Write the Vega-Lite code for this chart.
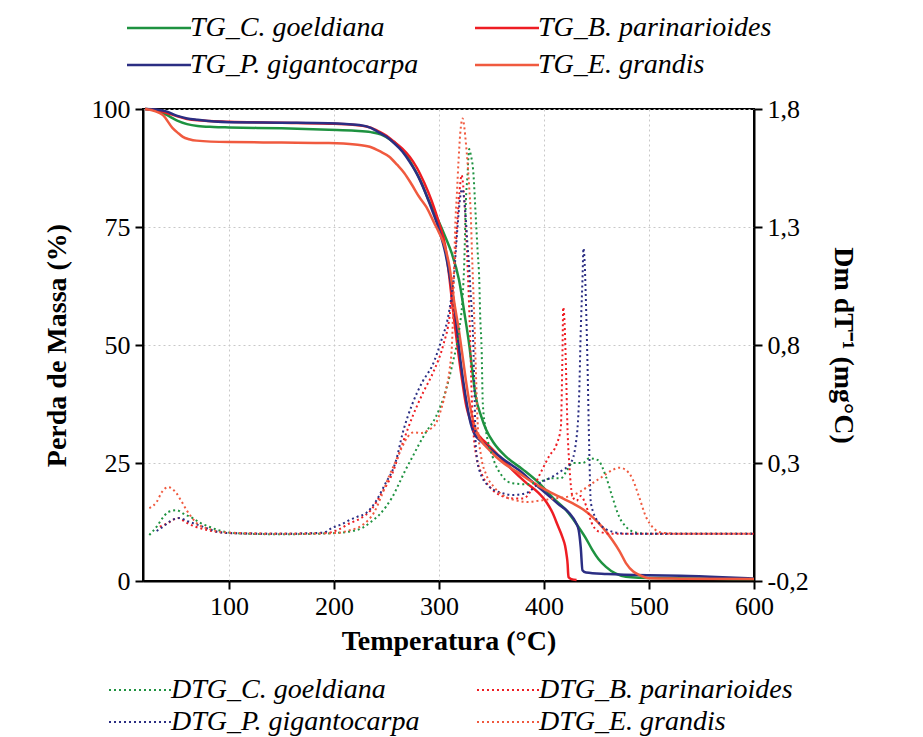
{
  "$schema": "https://vega.github.io/schema/vega-lite/v6.json",
  "width": 611,
  "height": 472,
  "autosize": {"type": "none"},
  "padding": {"left": 143, "top": 109, "right": 169, "bottom": 156},
  "background": "white",
  "config": {
    "font": "Liberation Serif",
    "view": {"stroke": "black", "strokeWidth": 2},
    "axis": {
      "labelFont": "Liberation Serif",
      "titleFont": "Liberation Serif",
      "labelColor": "black",
      "titleColor": "black",
      "labelFontSize": 26,
      "titleFontSize": 28,
      "titleFontWeight": "bold",
      "labelFlush": false,
      "domainColor": "black",
      "domainWidth": 2,
      "tickColor": "black",
      "tickWidth": 2,
      "tickSize": 8,
      "gridColor": "#c8c8c8",
      "gridDash": [2, 3],
      "gridWidth": 1
    },
    "legend": {
      "labelFont": "Liberation Serif",
      "labelColor": "black",
      "labelFontSize": 28,
      "labelFontStyle": "italic",
      "labelLimit": 500
    }
  },
  "datasets": {
    "tg": [
      {"T": 20, "m": 100, "s": "TG_C. goeldiana"},
      {"T": 30, "m": 99.7, "s": "TG_C. goeldiana"},
      {"T": 40, "m": 98.8, "s": "TG_C. goeldiana"},
      {"T": 50, "m": 97.6, "s": "TG_C. goeldiana"},
      {"T": 60, "m": 96.8, "s": "TG_C. goeldiana"},
      {"T": 70, "m": 96.4, "s": "TG_C. goeldiana"},
      {"T": 85, "m": 96.2, "s": "TG_C. goeldiana"},
      {"T": 100, "m": 96.1, "s": "TG_C. goeldiana"},
      {"T": 150, "m": 95.9, "s": "TG_C. goeldiana"},
      {"T": 195, "m": 95.6, "s": "TG_C. goeldiana"},
      {"T": 220, "m": 95.4, "s": "TG_C. goeldiana"},
      {"T": 235, "m": 95.1, "s": "TG_C. goeldiana"},
      {"T": 245, "m": 94.6, "s": "TG_C. goeldiana"},
      {"T": 255, "m": 93.3, "s": "TG_C. goeldiana"},
      {"T": 262, "m": 92.0, "s": "TG_C. goeldiana"},
      {"T": 270, "m": 89.8, "s": "TG_C. goeldiana"},
      {"T": 276, "m": 87.5, "s": "TG_C. goeldiana"},
      {"T": 283, "m": 84.5, "s": "TG_C. goeldiana"},
      {"T": 290, "m": 80.7, "s": "TG_C. goeldiana"},
      {"T": 298, "m": 77.0, "s": "TG_C. goeldiana"},
      {"T": 306, "m": 72.9, "s": "TG_C. goeldiana"},
      {"T": 312, "m": 69.5, "s": "TG_C. goeldiana"},
      {"T": 319, "m": 63.8, "s": "TG_C. goeldiana"},
      {"T": 324, "m": 57.0, "s": "TG_C. goeldiana"},
      {"T": 329, "m": 49.6, "s": "TG_C. goeldiana"},
      {"T": 332, "m": 44.0, "s": "TG_C. goeldiana"},
      {"T": 335, "m": 39.0, "s": "TG_C. goeldiana"},
      {"T": 340, "m": 35.0, "s": "TG_C. goeldiana"},
      {"T": 345, "m": 32.0, "s": "TG_C. goeldiana"},
      {"T": 352, "m": 29.3, "s": "TG_C. goeldiana"},
      {"T": 364, "m": 26.3, "s": "TG_C. goeldiana"},
      {"T": 380, "m": 23.6, "s": "TG_C. goeldiana"},
      {"T": 395, "m": 20.8, "s": "TG_C. goeldiana"},
      {"T": 410, "m": 17.3, "s": "TG_C. goeldiana"},
      {"T": 421, "m": 15.0, "s": "TG_C. goeldiana"},
      {"T": 433, "m": 11.4, "s": "TG_C. goeldiana"},
      {"T": 440, "m": 9.0, "s": "TG_C. goeldiana"},
      {"T": 446, "m": 6.6, "s": "TG_C. goeldiana"},
      {"T": 452, "m": 4.6, "s": "TG_C. goeldiana"},
      {"T": 459, "m": 3.0, "s": "TG_C. goeldiana"},
      {"T": 468, "m": 1.6, "s": "TG_C. goeldiana"},
      {"T": 478, "m": 0.9, "s": "TG_C. goeldiana"},
      {"T": 490, "m": 0.7, "s": "TG_C. goeldiana"},
      {"T": 520, "m": 0.6, "s": "TG_C. goeldiana"},
      {"T": 560, "m": 0.5, "s": "TG_C. goeldiana"},
      {"T": 600, "m": 0.4, "s": "TG_C. goeldiana"},

      {"T": 20, "m": 100, "s": "TG_B. parinarioides"},
      {"T": 30, "m": 99.8, "s": "TG_B. parinarioides"},
      {"T": 40, "m": 99.2, "s": "TG_B. parinarioides"},
      {"T": 50, "m": 98.5, "s": "TG_B. parinarioides"},
      {"T": 60, "m": 97.9, "s": "TG_B. parinarioides"},
      {"T": 70, "m": 97.6, "s": "TG_B. parinarioides"},
      {"T": 100, "m": 97.3, "s": "TG_B. parinarioides"},
      {"T": 150, "m": 97.1, "s": "TG_B. parinarioides"},
      {"T": 195, "m": 96.9, "s": "TG_B. parinarioides"},
      {"T": 215, "m": 96.7, "s": "TG_B. parinarioides"},
      {"T": 234, "m": 96.1, "s": "TG_B. parinarioides"},
      {"T": 243, "m": 95.2, "s": "TG_B. parinarioides"},
      {"T": 250, "m": 94.3, "s": "TG_B. parinarioides"},
      {"T": 257, "m": 93.1, "s": "TG_B. parinarioides"},
      {"T": 265, "m": 91.6, "s": "TG_B. parinarioides"},
      {"T": 272, "m": 89.9, "s": "TG_B. parinarioides"},
      {"T": 279, "m": 87.5, "s": "TG_B. parinarioides"},
      {"T": 286, "m": 84.3, "s": "TG_B. parinarioides"},
      {"T": 293, "m": 80.5, "s": "TG_B. parinarioides"},
      {"T": 300, "m": 75.8, "s": "TG_B. parinarioides"},
      {"T": 306, "m": 70.8, "s": "TG_B. parinarioides"},
      {"T": 310, "m": 64.0, "s": "TG_B. parinarioides"},
      {"T": 314, "m": 56.0, "s": "TG_B. parinarioides"},
      {"T": 318, "m": 49.0, "s": "TG_B. parinarioides"},
      {"T": 322, "m": 42.5, "s": "TG_B. parinarioides"},
      {"T": 326, "m": 37.0, "s": "TG_B. parinarioides"},
      {"T": 330, "m": 34.0, "s": "TG_B. parinarioides"},
      {"T": 334, "m": 32.0, "s": "TG_B. parinarioides"},
      {"T": 340, "m": 30.3, "s": "TG_B. parinarioides"},
      {"T": 345, "m": 29.2, "s": "TG_B. parinarioides"},
      {"T": 355, "m": 27.0, "s": "TG_B. parinarioides"},
      {"T": 370, "m": 23.5, "s": "TG_B. parinarioides"},
      {"T": 382, "m": 21.0, "s": "TG_B. parinarioides"},
      {"T": 395, "m": 18.6, "s": "TG_B. parinarioides"},
      {"T": 402, "m": 16.8, "s": "TG_B. parinarioides"},
      {"T": 408, "m": 14.5, "s": "TG_B. parinarioides"},
      {"T": 413, "m": 11.8, "s": "TG_B. parinarioides"},
      {"T": 417.5, "m": 9.3, "s": "TG_B. parinarioides"},
      {"T": 420, "m": 7.5, "s": "TG_B. parinarioides"},
      {"T": 421.5, "m": 5.5, "s": "TG_B. parinarioides"},
      {"T": 422.5, "m": 3.5, "s": "TG_B. parinarioides"},
      {"T": 423, "m": 1.5, "s": "TG_B. parinarioides"},
      {"T": 423.4, "m": 0.8, "s": "TG_B. parinarioides"},
      {"T": 426, "m": 0.4, "s": "TG_B. parinarioides"},
      {"T": 431, "m": 0.2, "s": "TG_B. parinarioides"},

      {"T": 20, "m": 100, "s": "TG_P. gigantocarpa"},
      {"T": 30, "m": 99.9, "s": "TG_P. gigantocarpa"},
      {"T": 40, "m": 99.5, "s": "TG_P. gigantocarpa"},
      {"T": 50, "m": 98.6, "s": "TG_P. gigantocarpa"},
      {"T": 60, "m": 98.0, "s": "TG_P. gigantocarpa"},
      {"T": 70, "m": 97.7, "s": "TG_P. gigantocarpa"},
      {"T": 100, "m": 97.2, "s": "TG_P. gigantocarpa"},
      {"T": 150, "m": 97.1, "s": "TG_P. gigantocarpa"},
      {"T": 195, "m": 97.0, "s": "TG_P. gigantocarpa"},
      {"T": 224, "m": 96.6, "s": "TG_P. gigantocarpa"},
      {"T": 235, "m": 96.0, "s": "TG_P. gigantocarpa"},
      {"T": 243, "m": 95.0, "s": "TG_P. gigantocarpa"},
      {"T": 250, "m": 94.1, "s": "TG_P. gigantocarpa"},
      {"T": 257, "m": 92.8, "s": "TG_P. gigantocarpa"},
      {"T": 265, "m": 91.0, "s": "TG_P. gigantocarpa"},
      {"T": 272, "m": 88.8, "s": "TG_P. gigantocarpa"},
      {"T": 279, "m": 86.2, "s": "TG_P. gigantocarpa"},
      {"T": 286, "m": 82.8, "s": "TG_P. gigantocarpa"},
      {"T": 293, "m": 78.8, "s": "TG_P. gigantocarpa"},
      {"T": 300, "m": 74.4, "s": "TG_P. gigantocarpa"},
      {"T": 306, "m": 69.5, "s": "TG_P. gigantocarpa"},
      {"T": 310, "m": 64.8, "s": "TG_P. gigantocarpa"},
      {"T": 315, "m": 57.5, "s": "TG_P. gigantocarpa"},
      {"T": 320.8, "m": 46.0, "s": "TG_P. gigantocarpa"},
      {"T": 325, "m": 39.5, "s": "TG_P. gigantocarpa"},
      {"T": 330, "m": 33.5, "s": "TG_P. gigantocarpa"},
      {"T": 334, "m": 31.0, "s": "TG_P. gigantocarpa"},
      {"T": 338, "m": 30.0, "s": "TG_P. gigantocarpa"},
      {"T": 346, "m": 28.5, "s": "TG_P. gigantocarpa"},
      {"T": 354, "m": 27.0, "s": "TG_P. gigantocarpa"},
      {"T": 365, "m": 25.2, "s": "TG_P. gigantocarpa"},
      {"T": 376, "m": 23.5, "s": "TG_P. gigantocarpa"},
      {"T": 389, "m": 21.0, "s": "TG_P. gigantocarpa"},
      {"T": 401.7, "m": 18.6, "s": "TG_P. gigantocarpa"},
      {"T": 413, "m": 16.4, "s": "TG_P. gigantocarpa"},
      {"T": 424, "m": 14.4, "s": "TG_P. gigantocarpa"},
      {"T": 430, "m": 12.5, "s": "TG_P. gigantocarpa"},
      {"T": 433, "m": 10.8, "s": "TG_P. gigantocarpa"},
      {"T": 435, "m": 7.0, "s": "TG_P. gigantocarpa"},
      {"T": 436.6, "m": 2.3, "s": "TG_P. gigantocarpa"},
      {"T": 440, "m": 1.8, "s": "TG_P. gigantocarpa"},
      {"T": 460, "m": 1.5, "s": "TG_P. gigantocarpa"},
      {"T": 500, "m": 1.2, "s": "TG_P. gigantocarpa"},
      {"T": 530, "m": 1.1, "s": "TG_P. gigantocarpa"},
      {"T": 570, "m": 0.8, "s": "TG_P. gigantocarpa"},
      {"T": 600, "m": 0.5, "s": "TG_P. gigantocarpa"},

      {"T": 20, "m": 100, "s": "TG_E. grandis"},
      {"T": 30, "m": 99.5, "s": "TG_E. grandis"},
      {"T": 37, "m": 98.7, "s": "TG_E. grandis"},
      {"T": 46, "m": 96.0, "s": "TG_E. grandis"},
      {"T": 52, "m": 94.8, "s": "TG_E. grandis"},
      {"T": 56, "m": 94.1, "s": "TG_E. grandis"},
      {"T": 62, "m": 93.6, "s": "TG_E. grandis"},
      {"T": 69, "m": 93.3, "s": "TG_E. grandis"},
      {"T": 100, "m": 93.0, "s": "TG_E. grandis"},
      {"T": 150, "m": 92.9, "s": "TG_E. grandis"},
      {"T": 195, "m": 92.8, "s": "TG_E. grandis"},
      {"T": 220, "m": 92.5, "s": "TG_E. grandis"},
      {"T": 234, "m": 92.0, "s": "TG_E. grandis"},
      {"T": 244, "m": 91.0, "s": "TG_E. grandis"},
      {"T": 252.6, "m": 89.9, "s": "TG_E. grandis"},
      {"T": 260, "m": 88.2, "s": "TG_E. grandis"},
      {"T": 267, "m": 86.4, "s": "TG_E. grandis"},
      {"T": 274, "m": 84.0, "s": "TG_E. grandis"},
      {"T": 281, "m": 81.4, "s": "TG_E. grandis"},
      {"T": 288, "m": 79.2, "s": "TG_E. grandis"},
      {"T": 295.5, "m": 75.8, "s": "TG_E. grandis"},
      {"T": 300, "m": 73.8, "s": "TG_E. grandis"},
      {"T": 306, "m": 70.5, "s": "TG_E. grandis"},
      {"T": 310, "m": 66.5, "s": "TG_E. grandis"},
      {"T": 314.5, "m": 59.0, "s": "TG_E. grandis"},
      {"T": 319, "m": 53.0, "s": "TG_E. grandis"},
      {"T": 322.5, "m": 47.5, "s": "TG_E. grandis"},
      {"T": 325.5, "m": 42.6, "s": "TG_E. grandis"},
      {"T": 330, "m": 36.5, "s": "TG_E. grandis"},
      {"T": 335, "m": 32.0, "s": "TG_E. grandis"},
      {"T": 340, "m": 29.8, "s": "TG_E. grandis"},
      {"T": 347.8, "m": 27.8, "s": "TG_E. grandis"},
      {"T": 360, "m": 25.2, "s": "TG_E. grandis"},
      {"T": 376, "m": 22.9, "s": "TG_E. grandis"},
      {"T": 390, "m": 20.8, "s": "TG_E. grandis"},
      {"T": 401.7, "m": 19.3, "s": "TG_E. grandis"},
      {"T": 415, "m": 17.8, "s": "TG_E. grandis"},
      {"T": 427, "m": 16.5, "s": "TG_E. grandis"},
      {"T": 437, "m": 15.2, "s": "TG_E. grandis"},
      {"T": 446, "m": 13.6, "s": "TG_E. grandis"},
      {"T": 456, "m": 11.3, "s": "TG_E. grandis"},
      {"T": 465, "m": 8.7, "s": "TG_E. grandis"},
      {"T": 472, "m": 6.3, "s": "TG_E. grandis"},
      {"T": 478, "m": 3.8, "s": "TG_E. grandis"},
      {"T": 485, "m": 2.0, "s": "TG_E. grandis"},
      {"T": 490.5, "m": 1.3, "s": "TG_E. grandis"},
      {"T": 500, "m": 0.6, "s": "TG_E. grandis"},
      {"T": 530, "m": 0.5, "s": "TG_E. grandis"},
      {"T": 600, "m": 0.4, "s": "TG_E. grandis"}
    ],
    "dtg": [
      {"T": 24, "d": -0.005, "s": "DTG_C. goeldiana"},
      {"T": 31, "d": 0.03, "s": "DTG_C. goeldiana"},
      {"T": 36, "d": 0.063, "s": "DTG_C. goeldiana"},
      {"T": 42, "d": 0.092, "s": "DTG_C. goeldiana"},
      {"T": 50, "d": 0.1, "s": "DTG_C. goeldiana"},
      {"T": 57, "d": 0.084, "s": "DTG_C. goeldiana"},
      {"T": 65, "d": 0.067, "s": "DTG_C. goeldiana"},
      {"T": 73, "d": 0.045, "s": "DTG_C. goeldiana"},
      {"T": 81, "d": 0.03, "s": "DTG_C. goeldiana"},
      {"T": 90, "d": 0.015, "s": "DTG_C. goeldiana"},
      {"T": 100, "d": 0.005, "s": "DTG_C. goeldiana"},
      {"T": 120, "d": 0.0, "s": "DTG_C. goeldiana"},
      {"T": 150, "d": -0.002, "s": "DTG_C. goeldiana"},
      {"T": 180, "d": 0.0, "s": "DTG_C. goeldiana"},
      {"T": 200, "d": 0.003, "s": "DTG_C. goeldiana"},
      {"T": 215, "d": 0.01, "s": "DTG_C. goeldiana"},
      {"T": 227, "d": 0.025, "s": "DTG_C. goeldiana"},
      {"T": 235, "d": 0.05, "s": "DTG_C. goeldiana"},
      {"T": 243, "d": 0.08, "s": "DTG_C. goeldiana"},
      {"T": 249.5, "d": 0.115, "s": "DTG_C. goeldiana"},
      {"T": 255.5, "d": 0.156, "s": "DTG_C. goeldiana"},
      {"T": 262, "d": 0.214, "s": "DTG_C. goeldiana"},
      {"T": 268, "d": 0.27, "s": "DTG_C. goeldiana"},
      {"T": 274.8, "d": 0.327, "s": "DTG_C. goeldiana"},
      {"T": 281, "d": 0.38, "s": "DTG_C. goeldiana"},
      {"T": 287.5, "d": 0.43, "s": "DTG_C. goeldiana"},
      {"T": 297, "d": 0.496, "s": "DTG_C. goeldiana"},
      {"T": 306.6, "d": 0.61, "s": "DTG_C. goeldiana"},
      {"T": 312.9, "d": 0.722, "s": "DTG_C. goeldiana"},
      {"T": 319, "d": 0.86, "s": "DTG_C. goeldiana"},
      {"T": 322.4, "d": 1.0, "s": "DTG_C. goeldiana"},
      {"T": 324, "d": 1.146, "s": "DTG_C. goeldiana"},
      {"T": 325.6, "d": 1.414, "s": "DTG_C. goeldiana"},
      {"T": 327, "d": 1.513, "s": "DTG_C. goeldiana"},
      {"T": 328.7, "d": 1.63, "s": "DTG_C. goeldiana"},
      {"T": 330.5, "d": 1.6, "s": "DTG_C. goeldiana"},
      {"T": 332.5, "d": 1.54, "s": "DTG_C. goeldiana"},
      {"T": 335, "d": 1.34, "s": "DTG_C. goeldiana"},
      {"T": 336.7, "d": 1.2, "s": "DTG_C. goeldiana"},
      {"T": 338.3, "d": 1.075, "s": "DTG_C. goeldiana"},
      {"T": 339.2, "d": 0.92, "s": "DTG_C. goeldiana"},
      {"T": 340.5, "d": 0.79, "s": "DTG_C. goeldiana"},
      {"T": 341.7, "d": 0.55, "s": "DTG_C. goeldiana"},
      {"T": 344.6, "d": 0.44, "s": "DTG_C. goeldiana"},
      {"T": 351, "d": 0.327, "s": "DTG_C. goeldiana"},
      {"T": 360.5, "d": 0.242, "s": "DTG_C. goeldiana"},
      {"T": 370, "d": 0.214, "s": "DTG_C. goeldiana"},
      {"T": 382.7, "d": 0.21, "s": "DTG_C. goeldiana"},
      {"T": 395, "d": 0.22, "s": "DTG_C. goeldiana"},
      {"T": 408, "d": 0.235, "s": "DTG_C. goeldiana"},
      {"T": 416, "d": 0.235, "s": "DTG_C. goeldiana"},
      {"T": 422, "d": 0.27, "s": "DTG_C. goeldiana"},
      {"T": 427, "d": 0.3, "s": "DTG_C. goeldiana"},
      {"T": 437, "d": 0.3, "s": "DTG_C. goeldiana"},
      {"T": 443, "d": 0.32, "s": "DTG_C. goeldiana"},
      {"T": 451, "d": 0.313, "s": "DTG_C. goeldiana"},
      {"T": 459, "d": 0.242, "s": "DTG_C. goeldiana"},
      {"T": 465, "d": 0.157, "s": "DTG_C. goeldiana"},
      {"T": 471.5, "d": 0.073, "s": "DTG_C. goeldiana"},
      {"T": 478, "d": 0.03, "s": "DTG_C. goeldiana"},
      {"T": 488, "d": 0.005, "s": "DTG_C. goeldiana"},
      {"T": 500, "d": 0.0, "s": "DTG_C. goeldiana"},
      {"T": 550, "d": 0.0, "s": "DTG_C. goeldiana"},
      {"T": 600, "d": 0.0, "s": "DTG_C. goeldiana"},

      {"T": 34, "d": 0.03, "s": "DTG_B. parinarioides"},
      {"T": 42, "d": 0.046, "s": "DTG_B. parinarioides"},
      {"T": 51, "d": 0.067, "s": "DTG_B. parinarioides"},
      {"T": 60, "d": 0.046, "s": "DTG_B. parinarioides"},
      {"T": 68, "d": 0.03, "s": "DTG_B. parinarioides"},
      {"T": 80, "d": 0.015, "s": "DTG_B. parinarioides"},
      {"T": 100, "d": 0.003, "s": "DTG_B. parinarioides"},
      {"T": 150, "d": 0.0, "s": "DTG_B. parinarioides"},
      {"T": 195, "d": 0.005, "s": "DTG_B. parinarioides"},
      {"T": 205, "d": 0.02, "s": "DTG_B. parinarioides"},
      {"T": 215, "d": 0.045, "s": "DTG_B. parinarioides"},
      {"T": 225, "d": 0.065, "s": "DTG_B. parinarioides"},
      {"T": 235, "d": 0.1, "s": "DTG_B. parinarioides"},
      {"T": 245, "d": 0.17, "s": "DTG_B. parinarioides"},
      {"T": 255, "d": 0.25, "s": "DTG_B. parinarioides"},
      {"T": 265, "d": 0.38, "s": "DTG_B. parinarioides"},
      {"T": 275, "d": 0.5, "s": "DTG_B. parinarioides"},
      {"T": 285, "d": 0.6, "s": "DTG_B. parinarioides"},
      {"T": 295, "d": 0.69, "s": "DTG_B. parinarioides"},
      {"T": 304, "d": 0.8, "s": "DTG_B. parinarioides"},
      {"T": 310, "d": 0.92, "s": "DTG_B. parinarioides"},
      {"T": 314, "d": 1.1, "s": "DTG_B. parinarioides"},
      {"T": 317, "d": 1.3, "s": "DTG_B. parinarioides"},
      {"T": 319.5, "d": 1.45, "s": "DTG_B. parinarioides"},
      {"T": 321.5, "d": 1.52, "s": "DTG_B. parinarioides"},
      {"T": 323.5, "d": 1.45, "s": "DTG_B. parinarioides"},
      {"T": 325.5, "d": 1.3, "s": "DTG_B. parinarioides"},
      {"T": 327.5, "d": 1.1, "s": "DTG_B. parinarioides"},
      {"T": 329.5, "d": 0.85, "s": "DTG_B. parinarioides"},
      {"T": 331, "d": 0.6, "s": "DTG_B. parinarioides"},
      {"T": 333, "d": 0.42, "s": "DTG_B. parinarioides"},
      {"T": 336, "d": 0.32, "s": "DTG_B. parinarioides"},
      {"T": 341, "d": 0.25, "s": "DTG_B. parinarioides"},
      {"T": 348, "d": 0.2, "s": "DTG_B. parinarioides"},
      {"T": 360, "d": 0.16, "s": "DTG_B. parinarioides"},
      {"T": 370, "d": 0.15, "s": "DTG_B. parinarioides"},
      {"T": 380, "d": 0.15, "s": "DTG_B. parinarioides"},
      {"T": 390, "d": 0.2, "s": "DTG_B. parinarioides"},
      {"T": 398, "d": 0.27, "s": "DTG_B. parinarioides"},
      {"T": 405, "d": 0.33, "s": "DTG_B. parinarioides"},
      {"T": 412, "d": 0.38, "s": "DTG_B. parinarioides"},
      {"T": 416, "d": 0.45, "s": "DTG_B. parinarioides"},
      {"T": 417.5, "d": 0.75, "s": "DTG_B. parinarioides"},
      {"T": 418.3, "d": 0.96, "s": "DTG_B. parinarioides"},
      {"T": 419.5, "d": 0.9, "s": "DTG_B. parinarioides"},
      {"T": 420.8, "d": 0.72, "s": "DTG_B. parinarioides"},
      {"T": 422.4, "d": 0.44, "s": "DTG_B. parinarioides"},
      {"T": 424, "d": 0.3, "s": "DTG_B. parinarioides"},
      {"T": 427.2, "d": 0.157, "s": "DTG_B. parinarioides"},
      {"T": 431, "d": 0.14, "s": "DTG_B. parinarioides"},
      {"T": 435, "d": 0.16, "s": "DTG_B. parinarioides"},
      {"T": 440, "d": 0.12, "s": "DTG_B. parinarioides"},
      {"T": 445, "d": 0.05, "s": "DTG_B. parinarioides"},
      {"T": 452, "d": 0.01, "s": "DTG_B. parinarioides"},
      {"T": 465, "d": 0.0, "s": "DTG_B. parinarioides"},
      {"T": 600, "d": 0.0, "s": "DTG_B. parinarioides"},

      {"T": 31, "d": 0.012, "s": "DTG_P. gigantocarpa"},
      {"T": 38, "d": 0.033, "s": "DTG_P. gigantocarpa"},
      {"T": 44, "d": 0.054, "s": "DTG_P. gigantocarpa"},
      {"T": 53, "d": 0.067, "s": "DTG_P. gigantocarpa"},
      {"T": 60, "d": 0.054, "s": "DTG_P. gigantocarpa"},
      {"T": 69, "d": 0.04, "s": "DTG_P. gigantocarpa"},
      {"T": 78, "d": 0.025, "s": "DTG_P. gigantocarpa"},
      {"T": 86, "d": 0.012, "s": "DTG_P. gigantocarpa"},
      {"T": 100, "d": 0.003, "s": "DTG_P. gigantocarpa"},
      {"T": 150, "d": 0.0, "s": "DTG_P. gigantocarpa"},
      {"T": 190, "d": 0.005, "s": "DTG_P. gigantocarpa"},
      {"T": 198, "d": 0.025, "s": "DTG_P. gigantocarpa"},
      {"T": 207, "d": 0.04, "s": "DTG_P. gigantocarpa"},
      {"T": 214.5, "d": 0.058, "s": "DTG_P. gigantocarpa"},
      {"T": 222, "d": 0.072, "s": "DTG_P. gigantocarpa"},
      {"T": 230.6, "d": 0.088, "s": "DTG_P. gigantocarpa"},
      {"T": 240, "d": 0.139, "s": "DTG_P. gigantocarpa"},
      {"T": 249.7, "d": 0.22, "s": "DTG_P. gigantocarpa"},
      {"T": 255.8, "d": 0.27, "s": "DTG_P. gigantocarpa"},
      {"T": 259, "d": 0.31, "s": "DTG_P. gigantocarpa"},
      {"T": 265.3, "d": 0.426, "s": "DTG_P. gigantocarpa"},
      {"T": 274.8, "d": 0.553, "s": "DTG_P. gigantocarpa"},
      {"T": 284.3, "d": 0.645, "s": "DTG_P. gigantocarpa"},
      {"T": 293.8, "d": 0.715, "s": "DTG_P. gigantocarpa"},
      {"T": 302.8, "d": 0.828, "s": "DTG_P. gigantocarpa"},
      {"T": 308, "d": 0.906, "s": "DTG_P. gigantocarpa"},
      {"T": 311.3, "d": 0.99, "s": "DTG_P. gigantocarpa"},
      {"T": 314.5, "d": 1.105, "s": "DTG_P. gigantocarpa"},
      {"T": 316, "d": 1.2, "s": "DTG_P. gigantocarpa"},
      {"T": 317.6, "d": 1.3, "s": "DTG_P. gigantocarpa"},
      {"T": 319.2, "d": 1.386, "s": "DTG_P. gigantocarpa"},
      {"T": 321, "d": 1.45, "s": "DTG_P. gigantocarpa"},
      {"T": 322.5, "d": 1.46, "s": "DTG_P. gigantocarpa"},
      {"T": 324, "d": 1.414, "s": "DTG_P. gigantocarpa"},
      {"T": 325.6, "d": 1.33, "s": "DTG_P. gigantocarpa"},
      {"T": 327, "d": 1.23, "s": "DTG_P. gigantocarpa"},
      {"T": 328.7, "d": 1.13, "s": "DTG_P. gigantocarpa"},
      {"T": 329.7, "d": 1.047, "s": "DTG_P. gigantocarpa"},
      {"T": 331.3, "d": 0.934, "s": "DTG_P. gigantocarpa"},
      {"T": 332.5, "d": 0.82, "s": "DTG_P. gigantocarpa"},
      {"T": 334, "d": 0.55, "s": "DTG_P. gigantocarpa"},
      {"T": 335, "d": 0.37, "s": "DTG_P. gigantocarpa"},
      {"T": 338.3, "d": 0.27, "s": "DTG_P. gigantocarpa"},
      {"T": 347.8, "d": 0.2, "s": "DTG_P. gigantocarpa"},
      {"T": 360.5, "d": 0.172, "s": "DTG_P. gigantocarpa"},
      {"T": 370, "d": 0.164, "s": "DTG_P. gigantocarpa"},
      {"T": 382.7, "d": 0.172, "s": "DTG_P. gigantocarpa"},
      {"T": 395.4, "d": 0.214, "s": "DTG_P. gigantocarpa"},
      {"T": 408, "d": 0.242, "s": "DTG_P. gigantocarpa"},
      {"T": 417.6, "d": 0.27, "s": "DTG_P. gigantocarpa"},
      {"T": 425.5, "d": 0.3, "s": "DTG_P. gigantocarpa"},
      {"T": 430.3, "d": 0.383, "s": "DTG_P. gigantocarpa"},
      {"T": 433.4, "d": 0.58, "s": "DTG_P. gigantocarpa"},
      {"T": 435, "d": 0.864, "s": "DTG_P. gigantocarpa"},
      {"T": 436.6, "d": 1.075, "s": "DTG_P. gigantocarpa"},
      {"T": 437.6, "d": 1.21, "s": "DTG_P. gigantocarpa"},
      {"T": 438.7, "d": 1.15, "s": "DTG_P. gigantocarpa"},
      {"T": 439.8, "d": 1.0, "s": "DTG_P. gigantocarpa"},
      {"T": 441.4, "d": 0.72, "s": "DTG_P. gigantocarpa"},
      {"T": 443, "d": 0.37, "s": "DTG_P. gigantocarpa"},
      {"T": 444.6, "d": 0.13, "s": "DTG_P. gigantocarpa"},
      {"T": 452.5, "d": 0.045, "s": "DTG_P. gigantocarpa"},
      {"T": 465, "d": 0.009, "s": "DTG_P. gigantocarpa"},
      {"T": 480, "d": 0.0, "s": "DTG_P. gigantocarpa"},
      {"T": 540, "d": 0.0, "s": "DTG_P. gigantocarpa"},
      {"T": 600, "d": 0.0, "s": "DTG_P. gigantocarpa"},

      {"T": 24, "d": 0.109, "s": "DTG_E. grandis"},
      {"T": 31, "d": 0.135, "s": "DTG_E. grandis"},
      {"T": 36, "d": 0.177, "s": "DTG_E. grandis"},
      {"T": 42, "d": 0.198, "s": "DTG_E. grandis"},
      {"T": 49, "d": 0.177, "s": "DTG_E. grandis"},
      {"T": 55, "d": 0.135, "s": "DTG_E. grandis"},
      {"T": 60, "d": 0.097, "s": "DTG_E. grandis"},
      {"T": 69, "d": 0.046, "s": "DTG_E. grandis"},
      {"T": 81, "d": 0.02, "s": "DTG_E. grandis"},
      {"T": 100, "d": 0.005, "s": "DTG_E. grandis"},
      {"T": 150, "d": 0.0, "s": "DTG_E. grandis"},
      {"T": 200, "d": 0.003, "s": "DTG_E. grandis"},
      {"T": 215, "d": 0.015, "s": "DTG_E. grandis"},
      {"T": 228, "d": 0.04, "s": "DTG_E. grandis"},
      {"T": 238, "d": 0.09, "s": "DTG_E. grandis"},
      {"T": 246, "d": 0.17, "s": "DTG_E. grandis"},
      {"T": 252, "d": 0.24, "s": "DTG_E. grandis"},
      {"T": 258, "d": 0.3, "s": "DTG_E. grandis"},
      {"T": 264, "d": 0.36, "s": "DTG_E. grandis"},
      {"T": 270, "d": 0.41, "s": "DTG_E. grandis"},
      {"T": 276, "d": 0.43, "s": "DTG_E. grandis"},
      {"T": 283, "d": 0.427, "s": "DTG_E. grandis"},
      {"T": 290, "d": 0.44, "s": "DTG_E. grandis"},
      {"T": 297, "d": 0.468, "s": "DTG_E. grandis"},
      {"T": 301.8, "d": 0.525, "s": "DTG_E. grandis"},
      {"T": 306.6, "d": 0.61, "s": "DTG_E. grandis"},
      {"T": 310, "d": 0.694, "s": "DTG_E. grandis"},
      {"T": 312.5, "d": 0.82, "s": "DTG_E. grandis"},
      {"T": 314, "d": 1.05, "s": "DTG_E. grandis"},
      {"T": 315.4, "d": 1.3, "s": "DTG_E. grandis"},
      {"T": 317, "d": 1.44, "s": "DTG_E. grandis"},
      {"T": 318.6, "d": 1.584, "s": "DTG_E. grandis"},
      {"T": 320.2, "d": 1.697, "s": "DTG_E. grandis"},
      {"T": 322.4, "d": 1.76, "s": "DTG_E. grandis"},
      {"T": 324, "d": 1.725, "s": "DTG_E. grandis"},
      {"T": 325.6, "d": 1.654, "s": "DTG_E. grandis"},
      {"T": 327.2, "d": 1.57, "s": "DTG_E. grandis"},
      {"T": 328.7, "d": 1.47, "s": "DTG_E. grandis"},
      {"T": 330.3, "d": 1.344, "s": "DTG_E. grandis"},
      {"T": 331.3, "d": 1.2, "s": "DTG_E. grandis"},
      {"T": 332.5, "d": 1.05, "s": "DTG_E. grandis"},
      {"T": 333.8, "d": 0.877, "s": "DTG_E. grandis"},
      {"T": 335, "d": 0.7, "s": "DTG_E. grandis"},
      {"T": 337, "d": 0.45, "s": "DTG_E. grandis"},
      {"T": 340, "d": 0.33, "s": "DTG_E. grandis"},
      {"T": 345, "d": 0.25, "s": "DTG_E. grandis"},
      {"T": 352, "d": 0.2, "s": "DTG_E. grandis"},
      {"T": 362, "d": 0.16, "s": "DTG_E. grandis"},
      {"T": 375, "d": 0.14, "s": "DTG_E. grandis"},
      {"T": 385, "d": 0.135, "s": "DTG_E. grandis"},
      {"T": 395, "d": 0.14, "s": "DTG_E. grandis"},
      {"T": 410, "d": 0.15, "s": "DTG_E. grandis"},
      {"T": 425, "d": 0.16, "s": "DTG_E. grandis"},
      {"T": 435, "d": 0.18, "s": "DTG_E. grandis"},
      {"T": 446, "d": 0.214, "s": "DTG_E. grandis"},
      {"T": 455.6, "d": 0.242, "s": "DTG_E. grandis"},
      {"T": 465, "d": 0.27, "s": "DTG_E. grandis"},
      {"T": 472, "d": 0.28, "s": "DTG_E. grandis"},
      {"T": 478, "d": 0.27, "s": "DTG_E. grandis"},
      {"T": 484, "d": 0.235, "s": "DTG_E. grandis"},
      {"T": 490.5, "d": 0.157, "s": "DTG_E. grandis"},
      {"T": 497, "d": 0.073, "s": "DTG_E. grandis"},
      {"T": 503, "d": 0.03, "s": "DTG_E. grandis"},
      {"T": 512, "d": 0.005, "s": "DTG_E. grandis"},
      {"T": 530, "d": 0.0, "s": "DTG_E. grandis"},
      {"T": 600, "d": 0.0, "s": "DTG_E. grandis"}
    ]
  },
  "layer": [
    {
      "data": {"name": "tg"},
      "mark": {"type": "line", "interpolate": "monotone", "strokeWidth": 2.5},
      "encoding": {
        "x": {
          "field": "T", "type": "quantitative",
          "scale": {"domain": [18, 600], "nice": false, "zero": false},
          "axis": {"values": [100, 200, 300, 400, 500, 600], "title": "Temperatura (°C)", "grid": true, "labelPadding": 4, "titlePadding": 8}
        },
        "y": {
          "field": "m", "type": "quantitative",
          "scale": {"domain": [0, 100], "nice": false},
          "axis": {"orient": "left", "values": [0, 25, 50, 75, 100], "title": "Perda de Massa (%)", "grid": true, "labelPadding": 5, "titlePadding": 20}
        },
        "color": {
          "field": "s", "type": "nominal",
          "scale": {
            "domain": ["TG_C. goeldiana", "TG_B. parinarioides", "TG_P. gigantocarpa", "TG_E. grandis"],
            "range": ["#1e9240", "#ee1d23", "#2b2e83", "#f05a3f"]
          },
          "legend": {
            "orient": "none", "legendX": 2, "legendY": -95, "title": null,
            "direction": "horizontal",
            "columns": 2, "columnPadding": 51, "rowPadding": 9,
            "symbolType": "M-4,0H4", "symbolSize": 256, "symbolStrokeWidth": 2.5,
            "symbolFillColor": "transparent", "labelOffset": 17
          }
        }
      }
    },
    {
      "data": {"name": "dtg"},
      "mark": {"type": "line", "interpolate": "monotone", "strokeWidth": 2, "strokeDash": [2, 3]},
      "encoding": {
        "x": {
          "field": "T", "type": "quantitative",
          "scale": {"domain": [18, 600], "nice": false, "zero": false},
          "axis": {"values": [100, 200, 300, 400, 500, 600], "title": "Temperatura (°C)", "grid": true, "labelPadding": 4, "titlePadding": 8}
        },
        "y": {
          "field": "d", "type": "quantitative",
          "scale": {"domain": [-0.2, 1.8], "nice": false, "zero": false},
          "axis": {"orient": "right", "values": [-0.2, 0.3, 0.8, 1.3, 1.8], "labelExpr": "replace(toString(datum.value), '.', ',')", "title": "Dm dT⁻¹ (mg°C)", "grid": false, "labelPadding": 5, "titlePadding": 20}
        },
        "color": {
          "field": "s", "type": "nominal",
          "scale": {
            "domain": ["DTG_C. goeldiana", "DTG_B. parinarioides", "DTG_P. gigantocarpa", "DTG_E. grandis"],
            "range": ["#1e9240", "#ee1d23", "#2b2e83", "#f05a3f"]
          },
          "legend": {
            "orient": "none", "legendX": -17, "legendY": 567, "title": null,
            "direction": "horizontal",
            "columns": 2, "columnPadding": 53, "rowPadding": 4,
            "symbolType": "M-3.875,0H3.875", "symbolSize": 256, "symbolStrokeWidth": 2, "symbolDash": [2, 3],
            "symbolFillColor": "transparent", "labelOffset": 17
          }
        }
      }
    }
  ],
  "resolve": {"scale": {"y": "independent", "color": "independent"}}
}
